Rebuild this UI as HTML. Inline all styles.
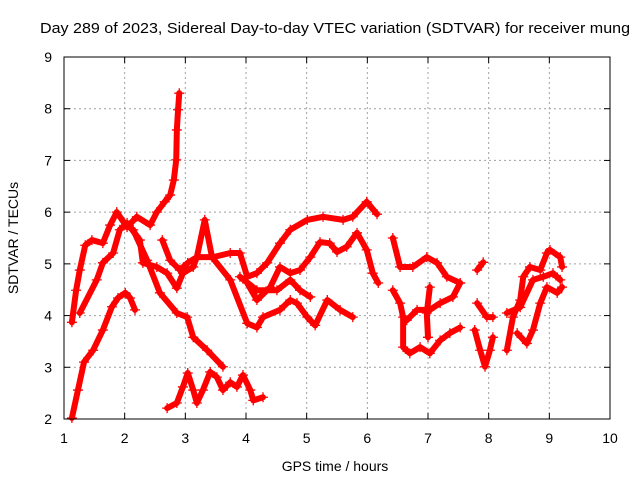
<!DOCTYPE html>
<html><head><meta charset="utf-8"><style>
body{margin:0;background:#fff}
svg{display:block;font-family:"Liberation Sans",sans-serif}
</style></head><body>
<svg id="chart" width="640" height="480">
<text x="335" y="33" font-size="15" text-anchor="middle" textLength="590" lengthAdjust="spacingAndGlyphs">Day 289 of 2023, Sidereal Day-to-day VTEC variation (SDTVAR) for receiver mung</text>
<text x="335" y="471" font-size="14" text-anchor="middle">GPS time / hours</text>
<text x="18" y="238" font-size="14" text-anchor="middle" transform="rotate(-90 18 238)">SDTVAR / TECUs</text>
<g id="grid"></g><g id="ticks"></g><g id="series"></g>
<rect x="64" y="57" width="546" height="362" fill="none" stroke="#000"/>
</svg>
<script>
const xTicks=[1,2,3,4,5,6,7,8,9,10];
const yTicks=[2,3,4,5,6,7,8,9];
const s1Hours=[1.13,1.23,1.33,1.48,1.64,1.79,1.89,2.01,2.09,2.17];
const s1Vals=[2.02,2.56,3.10,3.33,3.72,4.17,4.34,4.44,4.34,4.11];
const s2Hours=[1.13,1.20,1.26,1.35,1.46,1.64,1.76,1.87,2.04,2.20,2.42,2.53,2.66,2.75,2.81,2.85,2.86,2.88,2.90];
const s2Vals=[3.87,4.49,4.88,5.36,5.46,5.40,5.75,6.00,5.71,5.91,5.75,6.00,6.20,6.33,6.62,7.01,7.59,7.98,8.30];
const s3Hours=[1.26,1.54,1.64,1.81,1.92,2.04,2.25,2.30,2.53,2.70,2.86,2.96,3.13,3.19,3.46,3.74,3.90,4.02,4.18,4.35,4.56,4.73,5.01,5.27,5.60,5.76,5.99,6.16];
const s3Vals=[4.05,4.69,5.02,5.21,5.66,5.79,5.46,5.02,4.94,4.82,4.53,4.82,4.94,5.13,5.13,5.21,5.21,4.75,4.82,5.02,5.40,5.66,5.85,5.91,5.85,5.91,6.20,5.96];
const s4Hours=[2.14,2.37,2.58,2.86,3.03,3.13,3.36,3.62];
const s4Vals=[5.66,5.07,4.44,4.05,3.97,3.58,3.33,3.01];
const s5Hours=[2.70,2.86,2.96,3.04,3.13,3.19,3.29,3.41,3.52,3.62,3.74,3.85,3.95,4.07,4.12,4.28];
const s5Vals=[2.21,2.31,2.62,2.89,2.56,2.31,2.56,2.91,2.81,2.56,2.71,2.62,2.85,2.56,2.36,2.42];
const s6Hours=[2.62,2.75,2.91,3.04,3.19,3.32,3.44,3.74,4.02,4.18,4.28,4.56,4.73,4.84,5.01,5.14,5.34,5.55,5.76];
const s6Vals=[5.46,5.07,4.88,5.02,5.13,5.85,5.13,4.69,3.85,3.77,3.97,4.11,4.30,4.24,3.97,3.81,4.30,4.11,3.97];
const s7Hours=[4.02,4.18,4.40,4.56,4.73,4.89,5.06,5.22,5.38,5.50,5.66,5.83,5.99,6.09,6.18];
const s7Vals=[4.63,4.30,4.55,4.94,4.82,4.88,5.13,5.42,5.40,5.23,5.33,5.60,5.27,4.82,4.63];
const s8Hours=[3.90,4.18,4.51,4.73,4.89,5.06];
const s8Vals=[4.75,4.49,4.49,4.69,4.49,4.36];
const s9Hours=[6.42,6.54,6.75,6.98,7.15,7.31,7.53];
const s9Vals=[5.50,4.94,4.94,5.13,5.02,4.75,4.63];
const s10Hours=[7.53,7.41,7.20,7.03,6.82,6.65];
const s10Vals=[4.63,4.36,4.24,4.11,4.11,3.91];
const s11Hours=[6.42,6.54,6.59,6.59,6.70,6.87,7.03,7.20,7.36,7.53];
const s11Vals=[4.49,4.24,3.97,3.39,3.27,3.39,3.27,3.52,3.66,3.77];
const s12Hours=[7.03,6.98,7.00];
const s12Vals=[4.55,4.05,3.58];
const s13Hours=[7.81,7.91];
const s13Vals=[4.88,5.03];
const s14Hours=[7.81,7.97,8.07];
const s14Vals=[4.24,3.97,3.97];
const s15Hours=[7.77,7.86,7.94,8.02,8.07];
const s15Vals=[3.72,3.33,3.01,3.33,3.58];
const s16Hours=[8.30,8.40,8.52,8.57,8.68,8.85,8.96,9.01,9.18,9.21];
const s16Vals=[3.33,3.97,4.30,4.75,4.94,4.88,5.21,5.27,5.13,4.94];
const s17Hours=[8.30,8.52,8.73,8.90,9.06,9.18];
const s17Vals=[4.05,4.16,4.69,4.75,4.82,4.69];
const s18Hours=[8.47,8.63,8.73,8.85,8.96,9.13,9.21];
const s18Vals=[3.66,3.46,3.72,4.24,4.55,4.44,4.55];
const allSeries=[[s1Hours,s1Vals],[s2Hours,s2Vals],[s3Hours,s3Vals],[s4Hours,s4Vals],[s5Hours,s5Vals],[s6Hours,s6Vals],[s7Hours,s7Vals],[s8Hours,s8Vals],[s9Hours,s9Vals],[s10Hours,s10Vals],[s11Hours,s11Vals],[s12Hours,s12Vals],[s13Hours,s13Vals],[s14Hours,s14Vals],[s15Hours,s15Vals],[s16Hours,s16Vals],[s17Hours,s17Vals],[s18Hours,s18Vals]];

const X0=64,X1=610,Y0=419,Y1=57;
function xs(h){return X0+(h-1)/9*(X1-X0);}
function ys(v){return Y0-(v-2)/7*(Y0-Y1);}
const NS="http://www.w3.org/2000/svg";
function mk(tag,attrs,parent){const e=document.createElementNS(NS,tag);for(const k in attrs)e.setAttribute(k,attrs[k]);parent.appendChild(e);return e;}
const grid=document.getElementById('grid'),ticks=document.getElementById('ticks'),ser=document.getElementById('series');
xTicks.forEach(t=>{const x=xs(t);
 if(t>1&&t<10){const g=mk('line',{x1:x,x2:x,y1:Y1,y2:Y0,stroke:'#a0a0a0','stroke-dasharray':'2,3'},grid);
 
 }
 mk('line',{x1:x,x2:x,y1:Y0,y2:Y0-6,stroke:'#000'},ticks);
 mk('line',{x1:x,x2:x,y1:Y1,y2:Y1+6,stroke:'#000'},ticks);
 const l=mk('text',{x:x,y:443,'font-size':14,'text-anchor':'middle'},ticks);l.textContent=t;
 
 });
yTicks.forEach(t=>{const y=ys(t);
 if(t>2&&t<9){const g=mk('line',{x1:X0,x2:X1,y1:y,y2:y,stroke:'#a0a0a0','stroke-dasharray':'2,3'},grid);
 
 }
 mk('line',{x1:X0,x2:X0+6,y1:y,y2:y,stroke:'#000'},ticks);
 mk('line',{x1:X1,x2:X1-6,y1:y,y2:y,stroke:'#000'},ticks);
 const l=mk('text',{x:52,y:y+5,'font-size':14,'text-anchor':'end'},ticks);l.textContent=t;
 
 });
allSeries.forEach((s,i)=>{
 const g=mk('g',{},ser);
 
 
 const pts=s[0].map((h,j)=>xs(h)+','+ys(s[1][j])).join(' ');
 mk('polyline',{points:pts,fill:'none',stroke:'#f00','stroke-width':6,'stroke-linejoin':'round','stroke-linecap':'round'},g);
 s[0].forEach((h,j)=>{const x=xs(h),y=ys(s[1][j]);
  const p=mk('path',{d:`M${x-5},${y}h10M${x},${y-5}v10`,stroke:'#f00','stroke-width':1.3},g);
  
  });
});
</script>
</body></html>
